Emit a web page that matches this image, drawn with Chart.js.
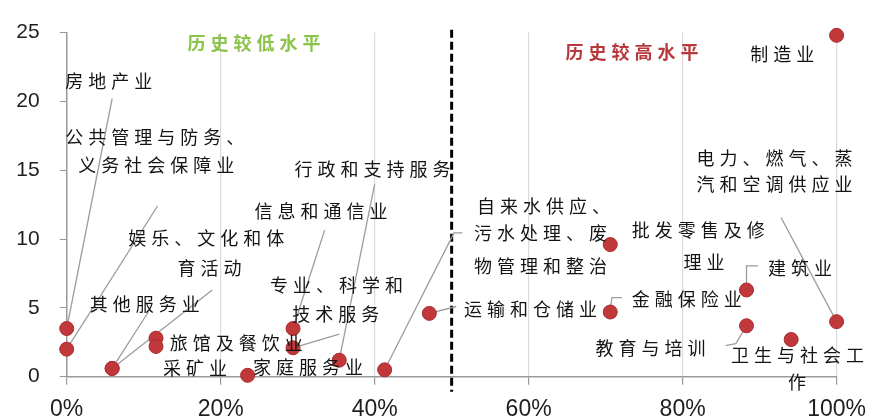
<!DOCTYPE html>
<html>
<head>
<meta charset="utf-8">
<title>行业历史分位</title>
<script src="https://cdn.jsdelivr.net/npm/chart.js"></script>
<style>
  body { margin: 0; background: #fff; }
  #wrap { width: 877px; height: 419px; }
</style>
</head>
<body>
<div id="wrap"><canvas id="scatter" width="877" height="419"></canvas></div>
<script>
// 行业名称、历史分位(%)和数值
const industries = ['房地产业', '公共管理与防务、义务社会保障业', '其他服务业', '娱乐、文化和体育活动',
  '旅馆及餐饮业', '采矿业', '家庭服务业', '信息和通信业', '专业、科学和技术服务', '行政和支持服务',
  '自来水供应、污水处理、废物管理和整治', '运输和仓储业', '批发零售及修理业', '金融保险业', '建筑业',
  '教育与培训', '卫生与社会工作', '电力、燃气、蒸汽和空调供应业', '制造业'];
const percentile = [0, 0, 5.9, 5.9, 11.6, 11.6, 23.5, 29.4, 29.4, 35.4, 41.3, 47.1, 70.6, 70.6, 88.3, 88.3, 94.1, 100, 100];
const value = [3.5, 2.0, 0.6, 0.6, 2.8, 2.2, 0.1, 3.5, 2.1, 1.2, 0.5, 4.6, 9.6, 4.7, 6.3, 3.7, 2.7, 4.0, 24.8];
const xTicks = [0, 20, 40, 60, 80, 100];
const yTicks = [0, 5, 10, 15, 20, 25];
const zoneTitles = ['历史较低水平', '历史较高水平'];
const divider = 50;

// 标签文字行（横轴分位、纵轴值处左对齐）和引线折点，引线最后连到该行业的点
const labelLayout = [
  { i: 0, text: [['房地产业', -0.2, 21.5]], leader: [[5.9, 20.2]] },
  { i: 1, text: [['公共管理与防务、', -0.2, 17.4], ['义务社会保障业', 1.5, 15.4]], leader: [[11.8, 12.4]] },
  { i: 2, text: [['其他服务业', 3.0, 5.25]], leader: [[10.6, 4.7]] },
  { i: 3, text: [['娱乐、文化和体', 8.0, 10.1], ['育活动', 14.4, 7.85]], leader: [[18.9, 6.3]] },
  { i: 4, text: [['旅馆及餐饮业', 13.4, 2.45]] },
  { i: 5, text: [['采矿业', 12.5, 0.63]] },
  { i: 6, text: [['家庭服务业', 24.2, 0.7]] },
  { i: 7, text: [['信息和通信业', 24.4, 12.05]], leader: [[33.5, 10.65]] },
  { i: 8, text: [['专业、科学和', 26.4, 6.65], ['技术服务', 29.3, 4.55]], leader: [[35.4, 3.1]] },
  { i: 9, text: [['行政和支持服务', 29.6, 15.05]], leader: [[40.0, 14.0]] },
  { i: 10, text: [['自来水供应、', 53.3, 12.4], ['污水处理、废', 52.9, 10.45], ['物管理和整治', 52.9, 8.05]],
    leader: [[51.4, 10.45], [50.3, 10.45]] },
  { i: 11, text: [['运输和仓储业', 51.6, 4.9]], leader: [[50.6, 5.1]] },
  { i: 12, text: [['批发零售及修', 73.4, 10.65], ['理业', 80.1, 8.35]] },
  { i: 13, text: [['金融保险业', 73.4, 5.6]], leader: [[72.1, 5.75], [70.8, 5.75]] },
  { i: 14, text: [['建筑业', 91.1, 7.85]], leader: [[89.8, 8.05], [88.3, 8.05]] },
  { i: 15, text: [['教育与培训', 68.7, 2.1]], leader: [[85.6, 2.25], [86.9, 2.4]] },
  { i: 16, text: [['卫生与社会工', 86.3, 1.55], ['作', 93.7, -0.4]] },
  { i: 17, text: [['电力、燃气、蒸', 81.8, 15.9], ['汽和空调供应业', 81.8, 14.0]], leader: [[92.8, 11.55]] },
  { i: 18, text: [['制造业', 88.8, 23.4]] }
];
const titleLayout = [[15.7, 24.2, '#8cc34b'], [64.8, 23.6, '#b8393d']];

const annotate = {
  id: 'annotate',
  beforeDatasetsDraw(chart) {
    const { ctx, scales: { x, y } } = chart;
    ctx.save();
    // 分界虚线
    ctx.strokeStyle = '#000';
    ctx.lineWidth = 3;
    ctx.setLineDash([8, 4]);
    ctx.beginPath();
    ctx.moveTo(x.getPixelForValue(divider), y.getPixelForValue(25.2));
    ctx.lineTo(x.getPixelForValue(divider), y.getPixelForValue(-1.1));
    ctx.stroke();
    // 引线
    ctx.setLineDash([]);
    ctx.strokeStyle = '#9c9c9c';
    ctx.lineWidth = 1.3;
    labelLayout.forEach(l => {
      if (!l.leader) return;
      ctx.beginPath();
      l.leader.forEach(([a, b], k) => {
        const px = x.getPixelForValue(a), py = y.getPixelForValue(b);
        k ? ctx.lineTo(px, py) : ctx.moveTo(px, py);
      });
      ctx.lineTo(x.getPixelForValue(percentile[l.i]), y.getPixelForValue(value[l.i]));
      ctx.stroke();
    });
    ctx.restore();
  },
  afterDatasetsDraw(chart) {
    const { ctx, scales: { x, y } } = chart;
    ctx.save();
    ctx.textAlign = 'left';
    ctx.textBaseline = 'middle';
    ctx.letterSpacing = '5px';
    ctx.fillStyle = '#141414';
    ctx.font = '18px "Noto Sans CJK SC"';
    labelLayout.forEach(l => {
      l.text.forEach(([t, a, b]) => ctx.fillText(t, x.getPixelForValue(a), y.getPixelForValue(b)));
    });
    ctx.font = 'bold 18px "Noto Sans CJK SC"';
    titleLayout.forEach(([a, b, c], k) => {
      ctx.fillStyle = c;
      ctx.fillText(zoneTitles[k], x.getPixelForValue(a), y.getPixelForValue(b));
    });
    ctx.restore();
  }
};

new Chart(document.getElementById('scatter'), {
  type: 'scatter',
  data: {
    labels: industries,
    datasets: [{
      data: percentile.map((p, k) => ({ x: p, y: value[k] })),
      backgroundColor: '#c0383a',
      borderColor: '#a82c2e',
      borderWidth: 1,
      pointRadius: 7,
      pointHoverRadius: 7,
      clip: false
    }]
  },
  options: {
    responsive: false,
    animation: false,
    devicePixelRatio: 1,
    layout: { padding: { top: 20, right: 39, left: 0, bottom: 0 } },
    plugins: { legend: { display: false }, tooltip: { enabled: false } },
    scales: {
      x: {
        type: 'linear',
        min: 0,
        max: 100,
        afterBuildTicks: s => { s.ticks = xTicks.map(v => ({ value: v })); },
        afterFit: s => { s.height = 42.3; },
        border: { color: '#999', width: 1.5 },
        grid: {
          color: c => (c.tick && c.tick.value === 0 ? 'rgba(0,0,0,0)' : '#dadada'),
          tickColor: '#999',
          tickLength: 8,
          lineWidth: 1.2
        },
        ticks: {
          padding: 11,
          color: '#1e1e1e',
          font: { family: 'Liberation Sans', size: 23 },
          callback: v => v + '%'
        }
      },
      y: {
        type: 'linear',
        min: 0,
        max: 25,
        afterBuildTicks: s => { s.ticks = yTicks.map(v => ({ value: v })); },
        afterFit: s => { s.width = 66.7; },
        border: { color: '#999', width: 1.5 },
        grid: { drawOnChartArea: false, tickColor: '#999', tickLength: 7 },
        ticks: {
          padding: 20,
          color: '#1e1e1e',
          font: { family: 'Liberation Sans', size: 21 }
        }
      }
    }
  },
  plugins: [annotate]
});
</script>
</body>
</html>
